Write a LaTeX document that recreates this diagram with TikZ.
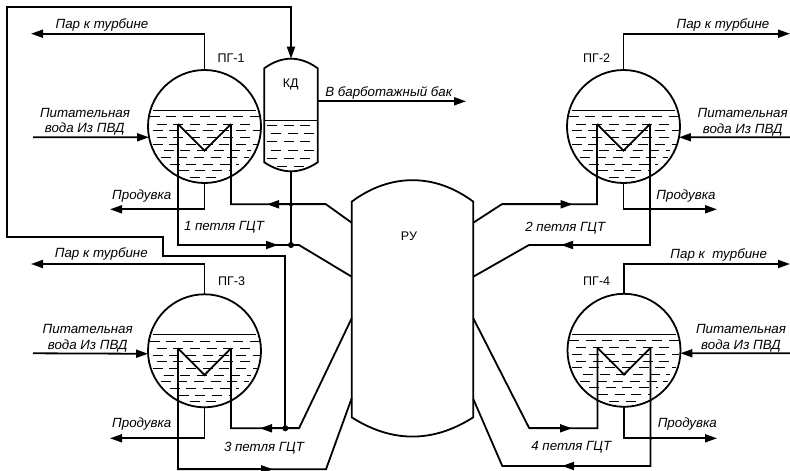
\documentclass[tikz,border=0pt]{standalone}
\usepackage{fontspec}
\setmainfont{Liberation Sans}
\usetikzlibrary{arrows.meta}
\tikzset{
  pipe/.style={line width=1.35pt,-{Triangle[length=9pt,width=6pt]}},
  wire/.style={line width=1.35pt,line join=miter},
  vessel/.style={line width=1.35pt},
  level/.style={line width=0.7pt},
  liquid/.style={line width=0.7pt,dash pattern=on 7.5pt off 5pt},
  tag/.style={font=\fontsize{9.4pt}{11pt}\selectfont,inner sep=0pt},
  flow/.style={font=\fontsize{10pt}{11pt}\selectfont\itshape,inner sep=0pt},
  joint/.style={circle,fill=black,inner sep=0pt,minimum size=#1},
  sgbody/.style={circle,draw,line width=1.35pt,minimum size=84.75pt,inner sep=0pt,outer sep=0pt}
}
\newcommand{\steamgen}[3]{%
  \begin{scope}[shift={(#2,#3)}]
    \node[sgbody] (#1) at (0,0) {};
    \draw[level] (-51.8,-16.2) -- (51.8,-16.2);
    \draw[liquid] (-55,-9.8) -- (55,-9.8);
    \draw[liquid] (-48,-2.5) -- (46,-2.5);
    \draw[liquid] (-52,4.2) -- (55,4.2);
    \draw[liquid] (-48,10.8) -- (50,10.8);
    \draw[liquid] (-52,17.5) -- (52,17.5);
    \draw[liquid] (-41,24.2) -- (46,24.2);
    \draw[liquid] (-44,30.8) -- (44,30.8);
    \draw[liquid] (-35,37.5) -- (34,37.5);
    \draw[liquid] (-26,44.2) -- (26,44.2);
    \draw[liquid] (-15,50.8) -- (12,50.8);
    \coordinate (#1l) at (-26.5,-2.5);
    \coordinate (#1r) at (26.5,-2.5);
    \coordinate (#1v) at (0,24.2);
    \draw[wire] (#1l) -- (#1v) -- (#1r);
  \end{scope}}
\begin{document}
\begin{tikzpicture}[x=0.75pt,y=-0.75pt]
\useasboundingbox (0,0) rectangle (790,471);
\fill[white] (0,0) rectangle (790,471);

\steamgen{pga}{204.5}{126.5}
\steamgen{pgb}{623.5}{126.5}
\steamgen{pgc}{204.5}{350.8}
\steamgen{pgd}{624}{350.3}

% reactor
\coordinate (rutl) at (351.7,201.7);
\coordinate (rutr) at (473.3,201.7);
\coordinate (rubl) at (351.7,417.3);
\coordinate (rubr) at (473.3,417.3);
\draw[vessel] (rutl) .. controls (390,173) and (435,173) .. (rutr) -- (rubr)
   .. controls (433,443) and (392,443) .. (rubl) -- cycle;
\coordinate (rua) at (351.7,222.7);
\coordinate (ruc) at (351.7,276.7);
\coordinate (rue) at (351.7,318.3);
\coordinate (rug) at (351.7,398.3);
\coordinate (rub) at (473.3,222.7);
\coordinate (rud) at (473.3,276.7);
\coordinate (ruf) at (473.3,318.3);
\coordinate (ruh) at (473.3,399);

% pressuriser
\coordinate (kdtop) at (291,58.7);
\coordinate (kdbot) at (291,171.3);
\coordinate (kdout) at (317.7,101.3);
\draw[vessel] (264.3,68.3) .. controls (282,55.5) and (300,55.5) .. (317.7,68.3) -- (317.7,162.3)
   .. controls (300,174.3) and (282,174.3) .. (264.3,162.3) -- cycle;
\draw[level] (264.3,120) -- (317.7,120);
\draw[liquid] (267,125.7) -- (316,125.7);
\draw[liquid] (271,133.3) -- (315,133.3);
\draw[liquid] (267,141.7) -- (316,141.7);
\draw[liquid] (271,150) -- (315,150);
\draw[liquid] (267,158.3) -- (316,158.3);
\draw[liquid] (277,166.7) -- (307,166.7);

% steam lines
\coordinate (sa) at (31,33.7);
\coordinate (sb) at (790,33.7);
\coordinate (sc) at (31,264);
\coordinate (sd) at (790,264);
\draw[pipe] (pga.north) |- (sa);
\draw[pipe] (pgb.north) |- (sb);
\draw[pipe] (pgc.north) |- (sc);
\draw[pipe] (pgd.north) |- (sd);

% feed water
\coordinate (fa) at (33,137.3);
\coordinate (fb) at (790,137.3);
\coordinate (fc) at (33,353.3);
\coordinate (fd) at (790,353.3);
\draw[pipe] (fa) -- (pga.191);
\draw[pipe] (fb) -- (pgb.349);
\draw[pipe] (fc) -- (pgc.183);
\draw[pipe] (fd) -- (pgd.357);

% blowdown
\coordinate (ba) at (110,209.3);
\coordinate (bb) at (717,209.3);
\coordinate (bc) at (110,438.3);
\coordinate (bd) at (717,438.3);
\draw[pipe] (pga.south) |- (ba);
\draw[pipe] (pgb.south) |- (bb);
\draw[pipe] (pgc.south) |- (bc);
\draw[pipe] (pgd.south) |- (bd);

% loop 1
\coordinate (ah) at (267,204.3);
\coordinate (ak) at (326,204.3);
\coordinate (aj) at (291,204.3);
\draw[wire] (rua) -- (ak) -- (ah) -| (pgar);
\draw[pipe] (ak) -- (ah);
\coordinate (ai) at (278,245);
\coordinate (al) at (299,245);
\coordinate (am) at (291,245);
\draw[wire] (pgal) |- (al) -- (ruc);
\draw[pipe] (pgal) |- (ai);
\draw[wire] (kdbot) -- (am);
\node[joint=3pt] (na) at (aj) {};
\node[joint=4.5pt] (nb) at (am) {};
\coordinate (ca) at (178,209.3);
\node[joint=2.5pt] (nc) at (ca) {};

% loop 2
\coordinate (bi) at (572.7,204.3);
\coordinate (bk) at (501.7,204.3);
\draw[wire] (rub) -- (bk) -- (bi) -| (pgbl);
\draw[pipe] (bk) -- (bi);
\coordinate (bl) at (561,245);
\coordinate (bm) at (529,245);
\draw[wire] (pgbr) |- (bm) -- (rud);
\draw[pipe] (pgbr) |- (bl);
\coordinate (cb) at (650,209.3);
\node[joint=2.5pt] (nd) at (cb) {};

% loop 3
\coordinate (ci) at (260,428.3);
\coordinate (ck) at (299,428.3);
\draw[wire] (rue) -- (ck) -- (ci) -| (pgcr);
\draw[pipe] (ck) -- (ci);
\coordinate (cl) at (273,469.3);
\coordinate (cm) at (326,469.3);
\draw[wire] (pgcl) |- (cm) -- (rug);
\draw[pipe] (pgcl) |- (cl);
\coordinate (cc) at (178,438.3);
\node[joint=2.5pt] (ne) at (cc) {};

% loop 4
\coordinate (dk) at (529.3,428.3);
\coordinate (di) at (572,428.3);
\draw[wire] (ruf) -- (dk) -- (di) -| (pgdl);
\draw[pipe] (dk) -- (di);
\coordinate (dl) at (562,466);
\coordinate (dm) at (502.3,466);
\draw[wire] (pgdr) |- (dm) -- (ruh);
\draw[pipe] (pgdr) |- (dl);
\coordinate (cd) at (651,438.3);
\node[joint=2.5pt] (nf) at (cd) {};

% spray line
\coordinate (p1) at (6.7,6.7);
\coordinate (p2) at (6.7,236.7);
\coordinate (p3) at (163.3,236.7);
\coordinate (p4) at (163.3,255.7);
\coordinate (p5) at (285.3,255.7);
\coordinate (p6) at (285.3,428.3);
\coordinate (p0) at (291,6.7);
\draw[pipe,line join=miter] (p6) -- (p5) -- (p4) -- (p3) -- (p2) -- (p1) -- (p0) -- (kdtop);
\node[joint=4.5pt] (ng) at (p6) {};

% to bubbler tank
\coordinate (kdt) at (466,101.3);
\draw[pipe] (kdout) -- (kdt);

% labels
\node[tag] (la) at (231,57.7) {ПГ-1};
\node[tag] (lb) at (596.7,57.7) {ПГ-2};
\node[tag] (lc) at (231.5,281) {ПГ-3};
\node[tag] (ld) at (596.7,281) {ПГ-4};
\node[tag] (lk) at (290.7,84.3) {КД};
\node[tag] (lr) at (409,236) {РУ};

\node[flow] (ta) at (102,24.7) {Пар к турбине};
\node[flow] (tb) at (723,24.7) {Пар к турбине};
\node[flow] (tc) at (101.3,254.3) {Пар к турбине};
\node[flow] (td) at (718.7,255) {Пар к\ \ турбине};

\node[flow] (ua) at (85,112.7) {Питательная};
\node[flow] (va) at (84.7,129.3) {вода Из ПВД};
\node[flow] (ub) at (742.7,113) {Питательная};
\node[flow] (vb) at (742.7,130) {вода Из ПВД};
\node[flow] (uc) at (87.7,329) {Питательная};
\node[flow] (vc) at (87.7,345.7) {вода Из ПВД};
\node[flow] (ud) at (741,329) {Питательная};
\node[flow] (vd) at (741,345.7) {вода Из ПВД};

\node[flow] (wa) at (141.7,196) {Продувка};
\node[flow] (wb) at (686,196) {Продувка};
\node[flow] (wc) at (141.7,424.3) {Продувка};
\node[flow] (wd) at (687.3,424.3) {Продувка};

\node[flow,anchor=west] (tk) at (325,92.7) {В барботажный бак};
\node[flow] (ga) at (224,227.7) {1 петля ГЦТ};
\node[flow] (gb) at (565.3,228) {2 петля ГЦТ};
\node[flow] (gc) at (264,447.7) {3 петля ГЦТ};
\node[flow] (gd) at (571.3,447.7) {4 петля ГЦТ};
\end{tikzpicture}
\end{document}
